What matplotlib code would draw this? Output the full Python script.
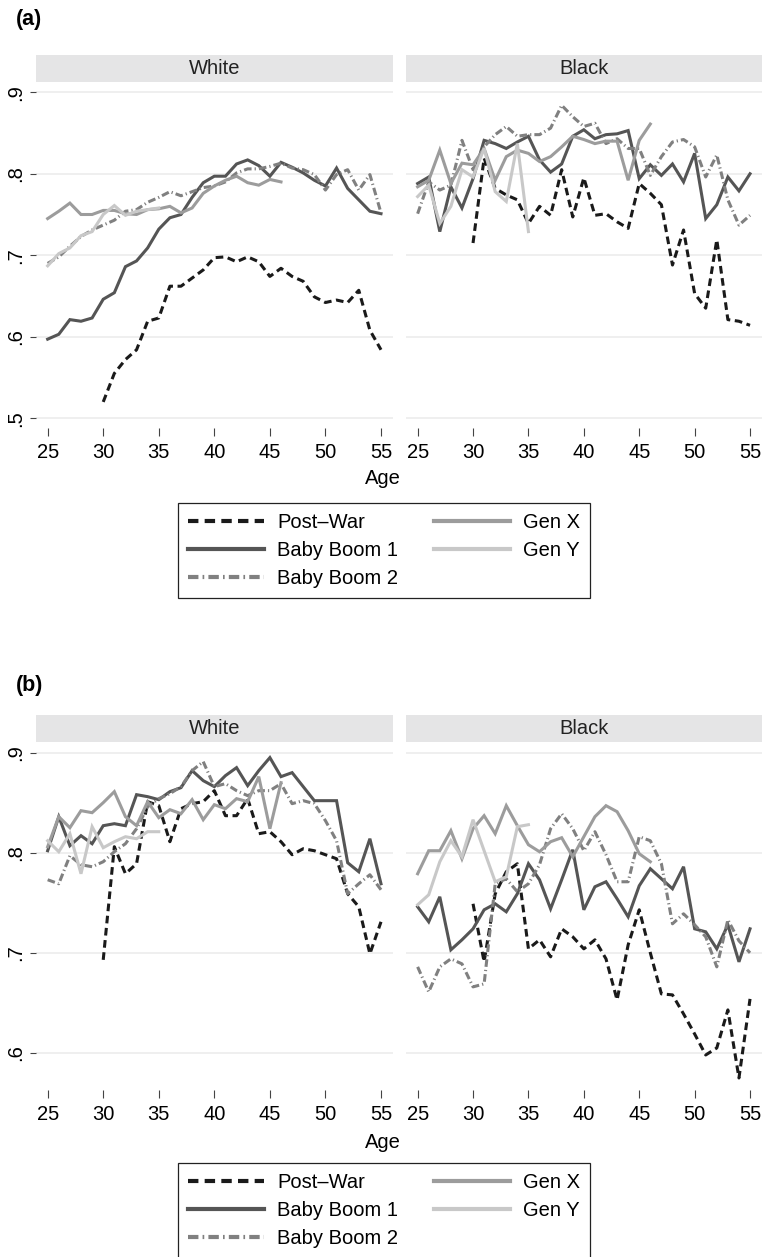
import numpy as np
import matplotlib
matplotlib.use('Agg')
from matplotlib import pyplot as plt
from matplotlib.patches import Rectangle

plt.rcParams['font.family'] = ['Liberation Sans', 'DejaVu Sans']

# ages covered by each cohort
ages_pw = list(range(30, 56))
ages_bb = list(range(25, 56))
ages_gx = list(range(25, 47))
ages_gy = list(range(25, 36))

cohorts = ['Post\u2013War', 'Baby Boom 1', 'Baby Boom 2', 'Gen X', 'Gen Y']

# ---- panel (a) ----
a_white_pw = [0.520, 0.555, 0.572, 0.584, 0.619, 0.623, 0.662, 0.662, 0.672, 0.682, 0.697, 0.698, 0.692,
              0.698, 0.692, 0.674, 0.684, 0.674, 0.668, 0.649, 0.642, 0.645, 0.642, 0.657, 0.608, 0.584]
a_white_bb1 = [0.597, 0.603, 0.621, 0.619, 0.623, 0.646, 0.654, 0.686, 0.693, 0.709, 0.732, 0.746, 0.750,
               0.771, 0.789, 0.797, 0.797, 0.812, 0.817, 0.810, 0.797, 0.814, 0.808, 0.801, 0.792, 0.785,
               0.807, 0.782, 0.768, 0.754, 0.751]
a_white_bb2 = [0.690, 0.698, 0.711, 0.723, 0.731, 0.737, 0.743, 0.754, 0.756, 0.765, 0.771, 0.778, 0.773,
               0.778, 0.783, 0.785, 0.790, 0.801, 0.806, 0.806, 0.809, 0.813, 0.807, 0.805, 0.799, 0.780,
               0.799, 0.805, 0.780, 0.799, 0.752]
a_white_gx = [0.745, 0.754, 0.764, 0.750, 0.750, 0.755, 0.755, 0.751, 0.750, 0.756, 0.757, 0.760, 0.752,
              0.758, 0.776, 0.785, 0.792, 0.797, 0.789, 0.786, 0.793, 0.790]
a_white_gy = [0.687, 0.702, 0.709, 0.724, 0.729, 0.750, 0.761, 0.749, 0.754, 0.756, 0.758]

a_black_pw = [0.715, 0.819, 0.782, 0.774, 0.768, 0.739, 0.760, 0.749, 0.805, 0.747, 0.795, 0.749, 0.751,
              0.741, 0.733, 0.788, 0.776, 0.762, 0.688, 0.731, 0.653, 0.635, 0.719, 0.621, 0.619, 0.614]
a_black_bb1 = [0.788, 0.796, 0.729, 0.784, 0.758, 0.794, 0.841, 0.837, 0.831, 0.839, 0.846, 0.817, 0.802,
               0.812, 0.846, 0.854, 0.843, 0.848, 0.849, 0.853, 0.794, 0.811, 0.798, 0.812, 0.790, 0.825,
               0.745, 0.762, 0.796, 0.779, 0.800]
a_black_bb2 = [0.751, 0.790, 0.780, 0.786, 0.841, 0.805, 0.833, 0.848, 0.858, 0.846, 0.848, 0.848, 0.856,
               0.884, 0.870, 0.858, 0.862, 0.837, 0.843, 0.831, 0.831, 0.798, 0.821, 0.839, 0.842, 0.833,
               0.796, 0.823, 0.768, 0.737, 0.749]
a_black_gx = [0.784, 0.792, 0.829, 0.788, 0.813, 0.811, 0.831, 0.792, 0.821, 0.829, 0.825, 0.815, 0.821,
              0.833, 0.846, 0.842, 0.837, 0.840, 0.840, 0.792, 0.841, 0.861]
a_black_gy = [0.772, 0.786, 0.739, 0.760, 0.805, 0.796, 0.831, 0.778, 0.766, 0.837, 0.729]

# ---- panel (b) ----
b_white_pw = [0.693, 0.806, 0.779, 0.789, 0.851, 0.847, 0.811, 0.844, 0.849, 0.851, 0.862, 0.837, 0.837,
              0.854, 0.819, 0.821, 0.811, 0.798, 0.804, 0.802, 0.798, 0.794, 0.759, 0.746, 0.699, 0.731]
b_white_bb1 = [0.802, 0.836, 0.807, 0.817, 0.809, 0.827, 0.829, 0.827, 0.858, 0.856, 0.853, 0.861, 0.865,
               0.882, 0.872, 0.866, 0.877, 0.885, 0.867, 0.882, 0.895, 0.876, 0.880, 0.866, 0.852, 0.852,
               0.852, 0.790, 0.781, 0.814, 0.769]
b_white_bb2 = [0.773, 0.769, 0.797, 0.788, 0.786, 0.791, 0.801, 0.809, 0.824, 0.846, 0.854, 0.859, 0.866,
               0.882, 0.891, 0.866, 0.869, 0.862, 0.857, 0.862, 0.862, 0.869, 0.849, 0.852, 0.849, 0.832,
               0.812, 0.759, 0.769, 0.778, 0.763]
b_white_gx = [0.806, 0.836, 0.825, 0.842, 0.840, 0.850, 0.861, 0.836, 0.827, 0.851, 0.835, 0.843, 0.839,
              0.853, 0.833, 0.848, 0.844, 0.854, 0.851, 0.876, 0.824, 0.870]
b_white_gy = [0.812, 0.801, 0.819, 0.779, 0.826, 0.805, 0.811, 0.816, 0.814, 0.821, 0.821]

b_black_pw = [0.749, 0.691, 0.759, 0.781, 0.789, 0.704, 0.713, 0.696, 0.724, 0.716, 0.704, 0.713, 0.694,
              0.653, 0.708, 0.743, 0.700, 0.659, 0.658, 0.639, 0.619, 0.598, 0.605, 0.643, 0.575, 0.654]
b_black_bb1 = [0.746, 0.731, 0.756, 0.703, 0.713, 0.724, 0.743, 0.749, 0.741, 0.759, 0.789, 0.773, 0.744,
               0.773, 0.803, 0.743, 0.766, 0.771, 0.754, 0.736, 0.767, 0.784, 0.774, 0.764, 0.786, 0.724,
               0.721, 0.704, 0.728, 0.691, 0.724]
b_black_bb2 = [0.686, 0.661, 0.686, 0.694, 0.689, 0.666, 0.669, 0.769, 0.774, 0.761, 0.769, 0.788, 0.824,
               0.839, 0.824, 0.802, 0.821, 0.798, 0.771, 0.771, 0.816, 0.812, 0.789, 0.729, 0.739, 0.728,
               0.716, 0.686, 0.733, 0.712, 0.700]
b_black_gx = [0.779, 0.802, 0.802, 0.822, 0.794, 0.824, 0.837, 0.819, 0.847, 0.827, 0.808, 0.801, 0.811,
              0.815, 0.796, 0.816, 0.836, 0.847, 0.841, 0.822, 0.799, 0.791]
b_black_gy = [0.748, 0.758, 0.791, 0.812, 0.796, 0.833, 0.802, 0.771, 0.776, 0.826, 0.828]

a_yticks = [0.5, 0.6, 0.7, 0.8, 0.9]
a_ylabels = ['.5', '.6', '.7', '.8', '.9']
b_yticks = [0.6, 0.7, 0.8, 0.9]
b_ylabels = ['.6', '.7', '.8', '.9']
xticks = [25, 30, 35, 40, 45, 50, 55]

# line styles per cohort
styles = [
    dict(color='#1a1a1a', ls=(0, (2.5, 1.5))),
    dict(color='#555555', ls='-'),
    dict(color='#808080', ls=(0, (2.5, 1.0, 0.4, 1.0))),
    dict(color='#9c9c9c', ls='-'),
    dict(color='#c8c8c8', ls='-'),
]
ages_list = [ages_pw, ages_bb, ages_bb, ages_gx, ages_gy]

FS = 14.5
W, H = 762, 1257
fig = plt.figure(figsize=(W / 100, H / 100), dpi=100)


def panel(left_px, width_px, top_px, bottom_px, ylim, yticks, ylabels, series, title, first):
    ax = fig.add_axes([left_px / W, 1 - bottom_px / H, width_px / W, (bottom_px - top_px) / H])
    lines = []
    for ages, vals, st in zip(ages_list, series, styles):
        ln, = ax.plot(ages, vals, color=st['color'], linestyle=st['ls'], lw=2.2,
                      solid_joinstyle='miter', dash_capstyle='butt')
        lines.append(ln)
    ax.set_xlim(23.95, 56.08)
    ax.set_ylim(*ylim)
    ax.set_yticks(yticks)
    ax.yaxis.grid(True, color='#ececec', lw=1.2)
    ax.set_axisbelow(True)
    for s in ax.spines.values():
        s.set_visible(False)
    ax.set_xticks(xticks)
    ax.set_xticklabels([str(t) for t in xticks], fontsize=FS)
    ax.tick_params(axis='x', length=5.5, width=0.8, color='#444444', pad=5)
    if first:
        ax.set_yticklabels(ylabels, fontsize=FS, rotation=90, va='center')
        ax.tick_params(axis='y', length=4.5, width=0.8, color='#444444', pad=3)
    else:
        ax.tick_params(axis='y', length=0, labelleft=False)
    # strip header
    strip_h = 27 / (bottom_px - top_px)
    ax.add_patch(Rectangle((0, 1), 1, strip_h, transform=ax.transAxes, clip_on=False,
                           facecolor='#e5e5e6', edgecolor='none'))
    ax.text(0.5, 1 + strip_h / 2, title, transform=ax.transAxes, ha='center', va='center',
            fontsize=FS, color='#222222')
    return lines


def figure_part(tag, tag_y, top_px, bottom_px, ylim, yticks, ylabels, white, black, age_y, leg_top):
    fig.text(16 / W, 1 - tag_y / H, tag, fontsize=15.5, fontweight='bold', ha='left', va='center')
    lines = panel(36, 357, top_px, bottom_px, ylim, yticks, ylabels, white, 'White', True)
    panel(406, 356, top_px, bottom_px, ylim, yticks, ylabels, black, 'Black', False)
    fig.text(383 / W, 1 - age_y / H, 'Age', fontsize=FS, ha='center', va='center')
    leg = fig.legend(lines, cohorts, ncol=2, loc='upper center', bbox_to_anchor=(384 / W, 1 - leg_top / H),
                     fontsize=FS, handlelength=3.8, handletextpad=0.65, columnspacing=1.75,
                     labelspacing=0.45, borderpad=0.5, borderaxespad=0, fancybox=False, framealpha=1,
                     edgecolor='#222222')
    leg.get_frame().set_linewidth(0.9)
    for h in leg.get_lines():
        h.set_linewidth(3.0)


figure_part('(a)', 20, 82, 428, (0.488, 0.9126), a_yticks, a_ylabels,
            [a_white_pw, a_white_bb1, a_white_bb2, a_white_gx, a_white_gy],
            [a_black_pw, a_black_bb1, a_black_bb2, a_black_gx, a_black_gy], 478, 503)
figure_part('(b)', 686, 742, 1090, (0.563, 0.9106), b_yticks, b_ylabels,
            [b_white_pw, b_white_bb1, b_white_bb2, b_white_gx, b_white_gy],
            [b_black_pw, b_black_bb1, b_black_bb2, b_black_gx, b_black_gy], 1143, 1163)

fig.savefig('out.png', dpi=100, facecolor='white')
